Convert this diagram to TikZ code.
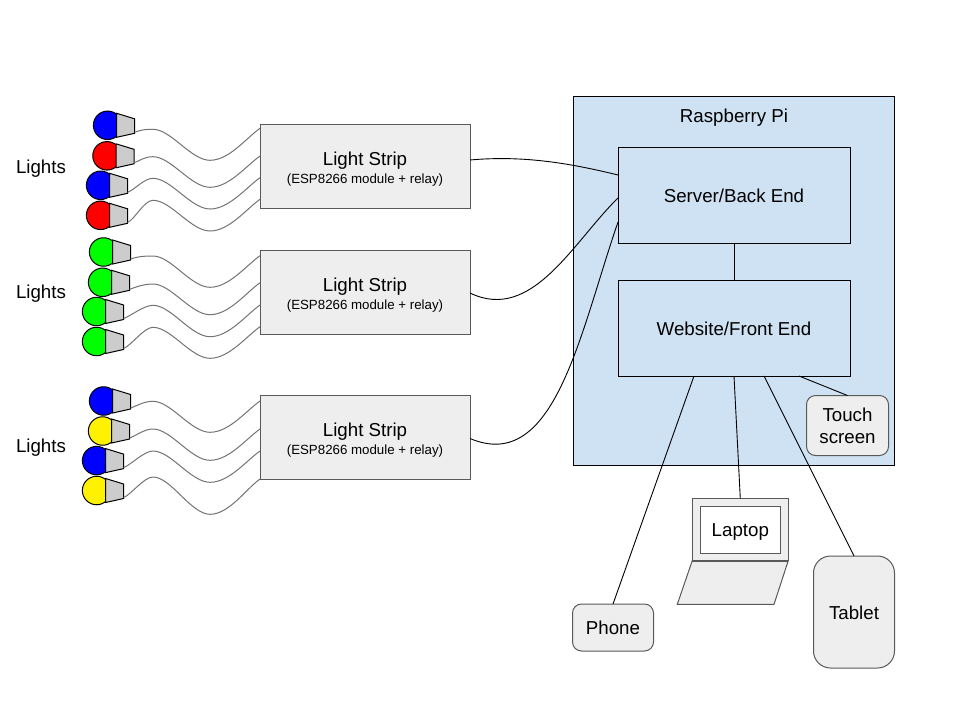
\documentclass[tikz,border=0pt]{standalone}
\usepackage{fontspec}
\setmainfont{Liberation Sans}
\usetikzlibrary{calc,positioning}
\definecolor{piblue}{HTML}{CFE2F3}
\definecolor{boxgray}{HTML}{EEEEEE}
\definecolor{edgegray}{HTML}{595959}
\definecolor{sockgray}{HTML}{CCCCCC}
\tikzset{%
   txt/.style={
      font=\fontsize{18.7}{22}\selectfont,
      align=center,
      inner sep=0pt,
      outer sep=0pt
   },
   oneline/.style={
      text height=15pt,
      text depth=2.6pt
   },
   lowline/.style={
      text height=16pt,
      text depth=1.6pt
   },
   smalltxt/.style={
      font=\fontsize{13.3}{14}\selectfont,
      inner sep=0pt,
      outer sep=0pt
   },
   stripbox/.style={
      draw=edgegray,
      fill=boxgray,
      inner sep=0pt,
      outer sep=0pt,
      minimum width=210pt,
      minimum height=84pt
   },
   pibox/.style={
      txt,
      lowline,
      draw=black,
      fill=piblue
   },
   device/.style={
      txt,
      draw=edgegray,
      fill=boxgray,
      rounded corners=9pt
   },
   ball/.style={
      circle,
      draw=black,
      inner sep=0pt,
      outer sep=0pt,
      minimum size=28.5pt
   },
   sock/.style={
      draw=black,
      fill=sockgray
   },
   wire/.style={
      draw=black!55,
      line width=1pt
   },
   link/.style={
      draw=black,
      line width=.9pt
   },
}
\begin{document}
\begin{tikzpicture}[x=1pt, y=-1pt, line width=1pt]
   \useasboundingbox (0,0) rectangle (960,720);
   % raspberry pi
   \node[pibox, minimum width=321pt, minimum height=369pt] (pi) at (733.5,280.5) {};
   \node[txt, oneline] (pilabel) at (734,116) {Raspberry Pi};
   \node[pibox, minimum width=232pt, minimum height=96pt] (server) at (734,195) {Server/Back End};
   \node[pibox, minimum width=232pt, minimum height=96pt] (website) at (734,328) {Website/Front End};
   \node[device, minimum width=82pt, minimum height=60pt] (touch) at (847.5,425.5) {Touch\\[0pt]screen};
   % devices
   \node[device, lowline, minimum width=81pt, minimum height=47pt] (phone) at (613,627.5) {Phone};
   \node[device, lowline, rounded corners=17pt, minimum width=81pt, minimum height=112pt] (tablet) at (854,612) {Tablet};
   \node[draw=edgegray, fill=boxgray, minimum width=96pt, minimum height=62pt, inner sep=0pt, outer sep=0pt] (lid) at (740.3,529.5) {};
   \node[txt, lowline, draw=edgegray, fill=white, minimum width=80pt, minimum height=47pt] (laptop) at (lid.center) {Laptop};
   \draw[draw=edgegray, fill=boxgray] (lid.south west) -- (lid.south east) -- (774,604.3) -- (677.3,604.3) -- cycle;
   \draw[edgegray, line width=2pt] (lid.south west) -- (lid.south east);
   % strips
   \foreach \s/\y/\ly in {strip1/166/167, strip2/292/292, strip3/437.5/446} {
      \node[stripbox] (\s) at (365,\y) {};
      \node[txt, oneline] (\s title) at ([yshift=7pt]\s.center) {Light Strip};
      \node[smalltxt, below=6pt of \s title] (\s note) {(ESP8266 module + relay)};
      \node[txt, oneline] (\s lights) at (41,\ly) {Lights};
   }
   % bulbs: name/x/y/colour/peak/trough/end
   \foreach \n/\x/\y/\col/\p/\t/\e/\s in {
      a/107.6/125.3/blue/129.3/160.3/128.3/strip1,
      b/107/155.8/red/156.7/187.3/156/strip1,
      c/100.6/185.3/blue/178.3/209/177.7/strip1,
      d/100.6/215.3/red/200.3/231/199.3/strip1,
      e/103.6/252/green/256/287.3/255.7/strip2,
      f/102.6/282.3/green/284/314.7/282.7/strip2,
      g/96.6/311.5/green/305.3/336.7/305/strip2,
      h/96.6/341.5/green/327.3/358.3/326.7/strip2,
      i/103.6/401/blue/401.3/432.3/401/strip3,
      j/102.6/431/yellow/429/460.3/429/strip3,
      k/96.6/460.6/blue/451/482.3/451/strip3,
      l/96.6/490.5/yellow/477/514.3/479/strip3} {
      \begin{scope}[shift={(\x,\y)}]
         \node[ball, fill=\col] (b\n) at (0,0) {};
         \draw[sock] (9,-12) -- (27,-6.5) -- (27,8) -- (9,12) -- cycle;
         \coordinate (s\n) at (27,7);
      \end{scope}
      \coordinate (e\n) at (\s.west |- {0,\e});
      \draw[wire] (s\n) .. controls +(7,-2.5) and +(-9,0) .. (153,\p)
         .. controls +(18,0) and +(-19,0) .. (210,\t)
         .. controls +(19,0) and +(-14,10) .. (e\n);
   }
   % links
   \draw[link] (strip1.east) ++(0,-6) coordinate (o1) .. controls +(55,-5) and +(-45,-11) .. ([yshift=20pt]server.west);
   \draw[link] (strip2.east) ++(0,1) coordinate (o2) .. controls +(62,30) and +(-45,44) .. ([yshift=-3pt]server.west);
   \draw[link] (strip3.east) ++(0,1) coordinate (o3) .. controls +(85,36) and +(-38,110) .. ([yshift=-27pt]server.west);
   \draw[link] (server.south) -- (website.north);
   \draw[link] ([xshift=-40pt]website.south) -- (phone.north);
   \draw[link] (website.south) -- (lid.north);
   \draw[link] ([xshift=30pt]website.south) -- (tablet.north);
   \draw[link] ([xshift=65pt]website.south) -- (touch.north);
\end{tikzpicture}
\end{document}
